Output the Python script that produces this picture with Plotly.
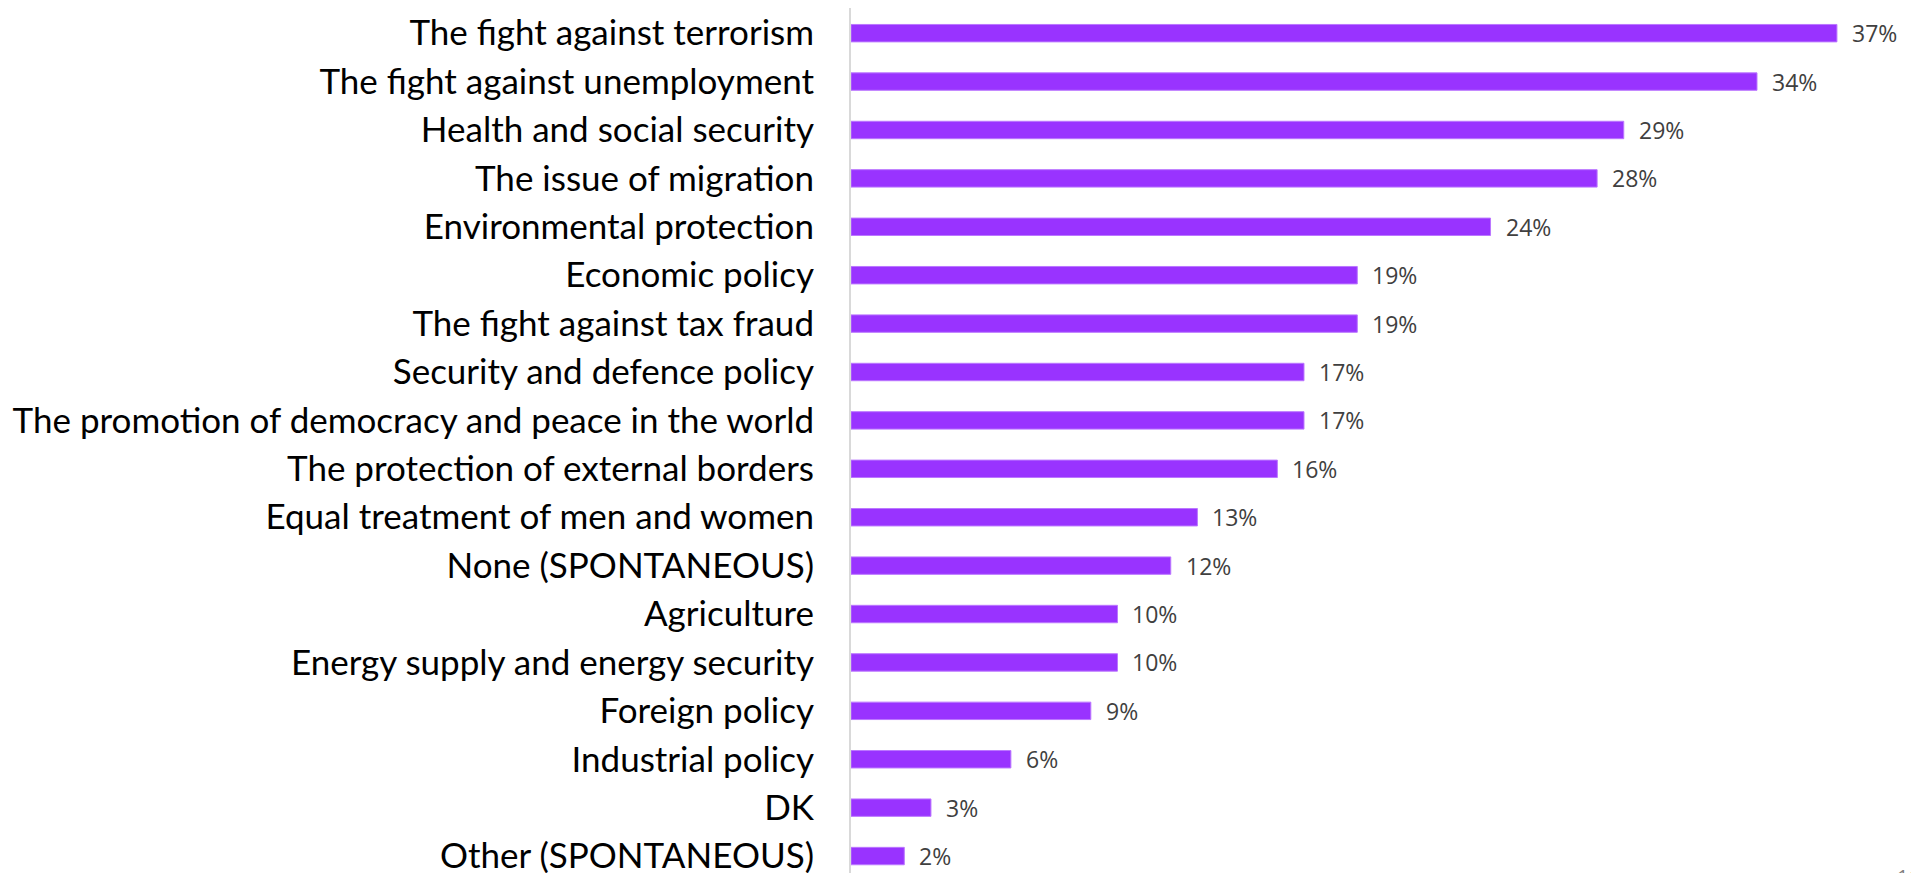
import plotly.graph_objects as go

categories = [
    "The fight against terrorism",
    "The fight against unemployment",
    "Health and social security",
    "The issue of migration",
    "Environmental protection",
    "Economic policy",
    "The fight against tax fraud",
    "Security and defence policy",
    "The promotion of democracy and peace in the world",
    "The protection of external borders",
    "Equal treatment of men and women",
    "None (SPONTANEOUS)",
    "Agriculture",
    "Energy supply and energy security",
    "Foreign policy",
    "Industrial policy",
    "DK",
    "Other (SPONTANEOUS)",
]
values = [37, 34, 29, 28, 24, 19, 19, 17, 17, 16, 13, 12, 10, 10, 9, 6, 3, 2]
value_labels = [f"{v}%" for v in values]

fig = go.Figure(
    go.Bar(
        x=values,
        y=categories,
        orientation="h",
        width=0.36,
        marker=dict(color="#9933ff", line=dict(color="#bb77ff", width=1)),
        hoverinfo="x+y",
    )
)

for v, c, t in zip(values, categories, value_labels):
    fig.add_annotation(
        x=v, y=c, text=t, showarrow=False, xanchor="left", yanchor="middle",
        xshift=13, font=dict(family="Open Sans", size=23, color="#404040"),
    )

fig.add_annotation(
    x=0.9775, y=0, xref="paper", yref="paper", text="16", showarrow=False,
    xanchor="left", yanchor="top", yshift=12,
    font=dict(family="Open Sans", size=20, color="#808080"),
)

fig.update_layout(
    width=1911,
    height=865,
    margin=dict(l=843, r=0, t=0, b=0, autoexpand=False),
    paper_bgcolor="white",
    plot_bgcolor="white",
    showlegend=False,
    xaxis=dict(range=[0, 40.08], visible=False, fixedrange=True),
    yaxis=dict(
        categoryorder="array",
        categoryarray=categories,
        range=[17.35, -0.52],
        automargin=False,
        showline=True,
        linecolor="#d9d9d9",
        linewidth=2,
        showgrid=False,
        ticks="",
        ticklabelstandoff=28,
        tickfont=dict(family="Lato", size=35, color="#000000"),
        fixedrange=True,
    ),
)

fig.write_html("out.html")
